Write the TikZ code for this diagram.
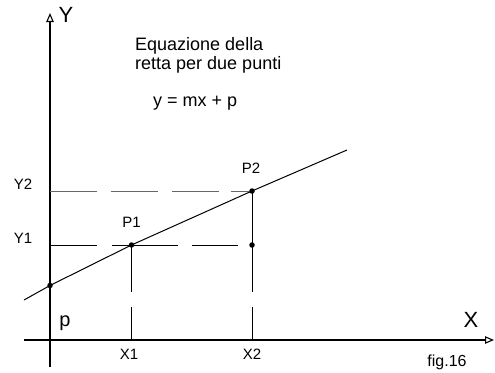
\documentclass[tikz,border=0pt]{standalone}
\usepackage{fontspec}
\setmainfont{Liberation Sans}
\usetikzlibrary{arrows.meta}
\begin{document}
\begin{tikzpicture}[x=1pt,y=-1pt,
  axis/.style={line width=1.1pt,-{Triangle[open,length=9pt,width=7.5pt,line width=1.1pt]}},
  dot/.style={circle,fill=black,inner sep=0pt,minimum size=5.5pt},
  retta/.style={line width=1pt},
  guide/.style={line width=1pt},
  small/.style={font=\fontsize{15}{17}\selectfont,inner sep=0pt},
  big/.style={font=\fontsize{22}{24}\selectfont,inner sep=0pt},
  body/.style={font=\fontsize{18}{20}\selectfont,inner sep=0pt}]
\useasboundingbox (0,0) rectangle (495,372);
% axes
\coordinate (xs) at (24,340);
\coordinate (xe) at (494,340);
\coordinate (ys) at (50,367);
\coordinate (ye) at (50,13);
\draw[axis] (xs) -- (xe);
\draw[axis] (ys) -- (ye);
% points
\node[dot] (p) at (50,285.5) {};
\node[dot] (P1) at (131.5,245) {};
\node[dot] (P2) at (252,191) {};
\node[dot] (Q) at (252,245) {};
\coordinate (l0) at (24,300);
\coordinate (l1) at (347,150);
\coordinate (y1a) at (50,245);
\coordinate (y2a) at (50,191);
\coordinate (x1b) at (131.5,340);
\coordinate (x2b) at (252,340);
% guides
\draw[guide,black!60,dash pattern=on 47pt off 14pt on 47pt off 14pt on 47pt off 12pt on 40pt] (y2a) -- (P2.center);
\draw[guide,dash pattern=on 47pt off 15pt on 66pt off 14pt on 46pt off 40pt] (y1a) -- (Q.center);
\draw[guide,dash pattern=on 47pt off 15pt on 40pt] (P1.center) -- (x1b);
\draw[guide,dash pattern=on 101pt off 15pt on 40pt] (P2.center) -- (x2b);
% line
\draw[retta] (l0) -- (p.center) -- (P1.center) -- (P2.center) -- (l1);
% labels
\node[big] (Ylab) at (66,15) {Y};
\node[big] (Xlab) at (471,320) {X};
\node[font=\fontsize{20}{22}\selectfont,inner sep=0pt,anchor=base] (plab) at (65,326) {p};
\node[small] (Y2lab) at (23,184) {Y2};
\node[small] (Y1lab) at (23,238) {Y1};
\node[small] (P1lab) at (131.5,222) {P1};
\node[small] (P2lab) at (251,168) {P2};
\node[small] (X1lab) at (129,354) {X1};
\node[small] (X2lab) at (252,354) {X2};
\node[font=\fontsize{16}{18}\selectfont,inner sep=0pt,anchor=base] (fig) at (447,366) {fig.16};
\node[body,anchor=base west] (t1) at (135,50) {Equazione della};
\node[body,anchor=base west] (t2) at (135,69) {retta per due punti};
\node[body,anchor=base west] (t3) at (153,106) {y = mx + p};
\end{tikzpicture}
\end{document}
